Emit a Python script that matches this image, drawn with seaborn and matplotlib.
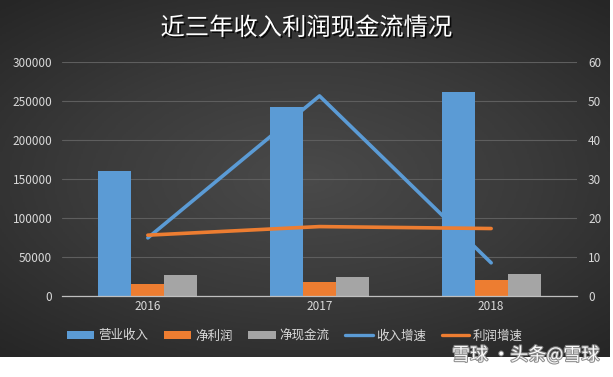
import numpy as np
import pandas as pd
import matplotlib
matplotlib.use("Agg")
import matplotlib.pyplot as plt
import matplotlib.patheffects as pe
import seaborn as sns

# ---- data ----
years = ["2016", "2017", "2018"]
revenue = [160000, 242000, 261500]
net_profit = [15400, 18300, 20500]
net_cash = [27000, 24700, 28200]
rev_growth = [14.9, 51.3, 8.5]
profit_growth = [15.6, 17.8, 17.3]
bar_names = ["营业收入", "净利润", "净现金流"]
line_names = ["收入增速", "利润增速"]
title = "近三年收入利润现金流情况"
left_ticks = [0, 50000, 100000, 150000, 200000, 250000, 300000]
right_ticks = [0, 10, 20, 30, 40, 50, 60]

bar_colors = ["#5b9bd5", "#ed7d31", "#a5a5a5"]
line_colors = ["#5b9bd5", "#ed7d31"]
txt_color = "#d9d9d9"

sns.set_theme(style="dark")
plt.rcParams["font.family"] = ["Noto Sans CJK SC", "DejaVu Sans"]

df_bar = pd.DataFrame({
    "year": years * 3,
    "value": revenue + net_profit + net_cash,
    "series": [bar_names[0]] * 3 + [bar_names[1]] * 3 + [bar_names[2]] * 3,
})
df_line = pd.DataFrame({
    "year": years * 2,
    "value": rev_growth + profit_growth,
    "series": [line_names[0]] * 3 + [line_names[1]] * 3,
})

fig = plt.figure(figsize=(6.13, 3.77), dpi=100)
fig.patch.set_facecolor("white")

# dark radial-gradient background
bg = fig.add_axes([0, 1 - 357 / 377, 610 / 613, 357 / 377])
yy, xx = np.mgrid[-1:1:200j, -1:1:300j]
r = np.sqrt((xx * 0.8) ** 2 + (yy * 0.9) ** 2)
bg.imshow(r, cmap=matplotlib.colors.LinearSegmentedColormap.from_list(
    "g", ["#4a4a4a", "#3a3a3a", "#262626"]), aspect="auto", vmin=0, vmax=1.2)
bg.set_axis_off()
bg.set_zorder(0)

ax = fig.add_axes([62 / 613, 1 - 296 / 377, 515 / 613, 234 / 377])
ax.set_zorder(1)
ax.patch.set_alpha(0)

sns.barplot(data=df_bar, x="year", y="value", hue="series", palette=bar_colors,
            width=0.577, gap=0, ax=ax, legend=False, saturation=1,
            edgecolor="none", linewidth=0)
ax.set_ylim(0, 300000)
ax.set_yticks(left_ticks)
ax.set_yticklabels([str(t) for t in left_ticks])
ax.yaxis.grid(True, color="#5e5e5e", linewidth=0.8)
ax.xaxis.grid(False)
ax.set_axisbelow(True)
for s in ["top", "right", "left"]:
    ax.spines[s].set_visible(False)
ax.spines["bottom"].set_color("#bfbfbf")
ax.spines["bottom"].set_linewidth(0.9)
ax.tick_params(axis="both", colors=txt_color, labelsize=8.5, length=0)
ax.tick_params(axis="y", pad=7)
ax.tick_params(axis="x", pad=3)
ax.set_xlabel("")
ax.set_ylabel("")

ax2 = ax.twinx()
sns.pointplot(data=df_line, x="year", y="value", hue="series", palette=line_colors,
              markers="", linewidth=2.6, errorbar=None, ax=ax2, legend=False)
ax2.set_ylim(0, 60)
ax2.set_yticks(right_ticks)
ax2.set_yticklabels([str(t) for t in right_ticks])
for s in ["top", "right", "left", "bottom"]:
    ax2.spines[s].set_visible(False)
ax2.tick_params(axis="y", colors=txt_color, labelsize=8.5, length=0, pad=8)
ax2.set_ylabel("")
ax2.set_xlabel("")
ax2.grid(False)
ax.set_xlim(-0.5, 2.5)
ax2.set_xlim(-0.5, 2.5)

# title
fig.text(306 / 613, 1 - 28 / 377, title, ha="center", va="center",
         color="white", fontsize=17.5, fontweight="medium",
         path_effects=[pe.withSimplePatchShadow(offset=(1.2, -1.2), shadow_rgbFace="black", alpha=0.8)])

# legend
from matplotlib.patches import Patch
from matplotlib.lines import Line2D
handles = [Patch(facecolor=c, edgecolor="none") for c in bar_colors] + \
          [Line2D([0], [0], color=c, linewidth=2.4) for c in line_colors]
leg = fig.legend(handles, bar_names + line_names, loc="center", ncol=5,
                 bbox_to_anchor=(295 / 613, 1 - 336 / 377), frameon=False,
                 fontsize=9, handlelength=2.2, handleheight=0.6,
                 handletextpad=0.3, columnspacing=1.25)
for t in leg.get_texts():
    t.set_color(txt_color)

# watermark
fig.text(452 / 613, 1 - 355 / 377, "雪球 ·头条@雪球", ha="left", va="center",
         color="white", fontsize=13, alpha=0.95,
         path_effects=[pe.withStroke(linewidth=1.5, foreground="#888888")])

fig.savefig("out.png", dpi=100, facecolor=fig.get_facecolor())
